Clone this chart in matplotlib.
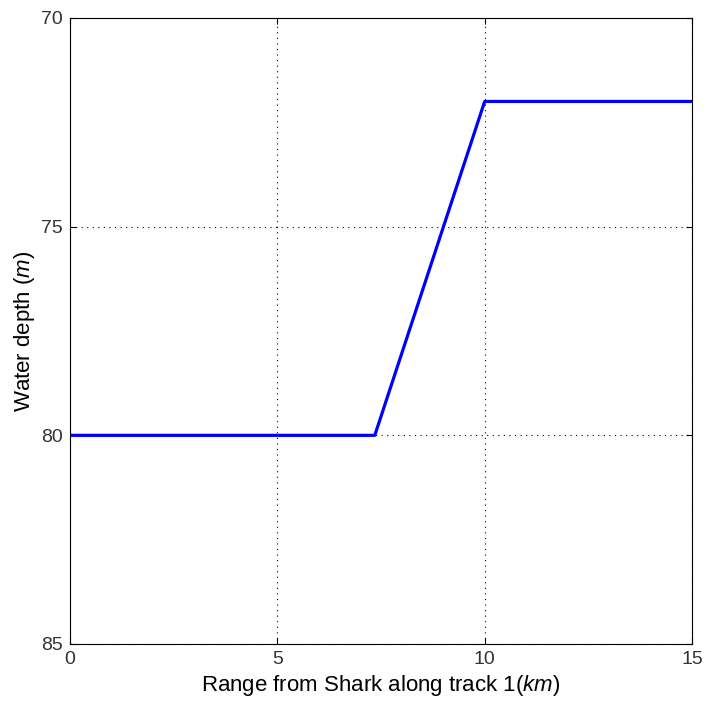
import matplotlib
matplotlib.use("Agg")
import matplotlib.pyplot as plt

# bathymetry along track 1
range_km = [0, 7.35, 10, 15]
depth_m = [80, 80, 72, 72]

x_ticks = [0, 5, 10, 15]
y_ticks = [70, 75, 80, 85]

plt.rcParams['font.family'] = ['Liberation Sans', 'DejaVu Sans']
plt.rcParams['mathtext.fontset'] = 'custom'
plt.rcParams['mathtext.it'] = 'Liberation Sans:italic'
plt.rcParams['mathtext.rm'] = 'Liberation Sans'

fig = plt.figure(figsize=(7.07, 7.03), dpi=100)
ax = fig.add_axes([70 / 707, 1 - 644 / 703, 622 / 707, 626 / 703])

ax.plot(range_km, depth_m, color=(0, 0, 1), linewidth=2.3)

ax.set_xlim(0, 15)
ax.set_ylim(85, 70)
ax.set_xticks(x_ticks)
ax.set_yticks(y_ticks)
ax.tick_params(direction='in', length=4, width=0.8, top=True, right=True,
               labelsize=14, labelcolor='#333333', pad=5)
ax.grid(True, linestyle=(0, (1, 4)), color='black', linewidth=0.8)

for s in ax.spines.values():
    s.set_linewidth(0.8)

ax.set_xlabel("Range from Shark along track 1($km$)", fontsize=16, labelpad=4)
ax.set_ylabel("Water depth ($m$)", fontsize=16, labelpad=3)

fig.savefig("out.png", dpi=100)
